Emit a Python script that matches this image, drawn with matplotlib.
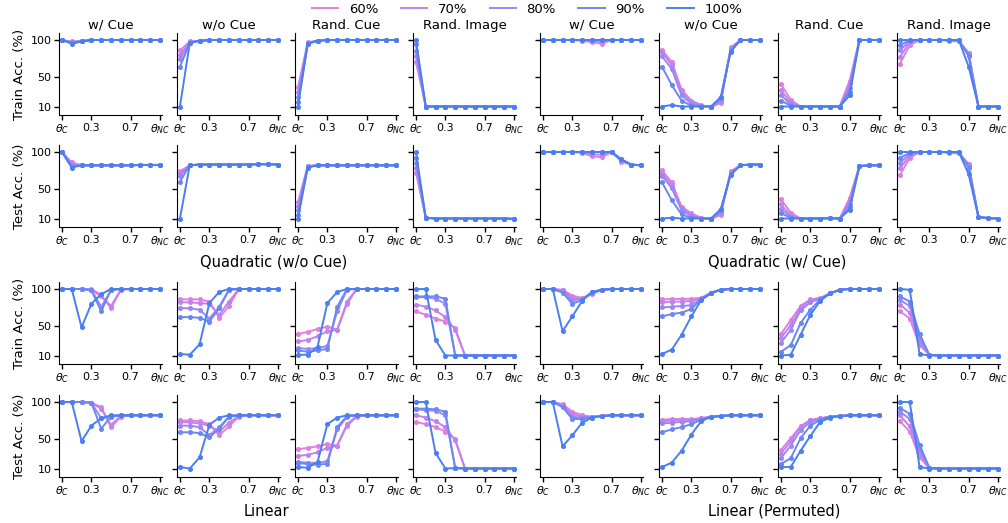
import matplotlib.pyplot as plt
from matplotlib.lines import Line2D

# x positions: theta_C ... theta_NC
theta = [0.0, 0.1, 0.2, 0.3, 0.4, 0.5, 0.6, 0.7, 0.8, 0.9, 1.0]
rates = ['60%', '70%', '80%', '90%', '100%']
conditions = ['w/ Cue', 'w/o Cue', 'Rand. Cue', 'Rand. Image']
colors = ['#e07fe0', '#c381ef', '#9a88f2', '#6d86f1', '#4a7ff0']

# ---- Quadratic (w/o Cue) ----
qn_train_wcue = [
    [100, 98, 99, 100, 100, 100, 100, 100, 100, 100, 100],
    [100, 97, 99, 100, 100, 100, 100, 100, 100, 100, 100],
    [100, 97, 98, 100, 100, 100, 100, 100, 100, 100, 100],
    [100, 96, 98, 100, 100, 100, 100, 100, 100, 100, 100],
    [100, 95, 98, 100, 100, 100, 100, 100, 100, 100, 100],
]
qn_train_nocue = [
    [86, 98, 99, 100, 100, 100, 100, 100, 100, 100, 100],
    [80, 97, 99, 100, 100, 100, 100, 100, 100, 100, 100],
    [74, 97, 99, 100, 100, 100, 100, 100, 100, 100, 100],
    [64, 96, 99, 100, 100, 100, 100, 100, 100, 100, 100],
    [10, 96, 99, 100, 100, 100, 100, 100, 100, 100, 100],
]
qn_train_randcue = [
    [36, 97, 99, 100, 100, 100, 100, 100, 100, 100, 100],
    [30, 96, 99, 100, 100, 100, 100, 100, 100, 100, 100],
    [23, 96, 99, 100, 100, 100, 100, 100, 100, 100, 100],
    [16, 95, 99, 100, 100, 100, 100, 100, 100, 100, 100],
    [10, 95, 99, 100, 100, 100, 100, 100, 100, 100, 100],
]
qn_train_randimg = [
    [70, 10, 10, 10, 10, 10, 10, 10, 10, 10, 10],
    [78, 10, 10, 10, 10, 10, 10, 10, 10, 10, 10],
    [85, 10, 10, 10, 10, 10, 10, 10, 10, 10, 10],
    [94, 10, 10, 10, 10, 10, 10, 10, 10, 10, 10],
    [100, 10, 10, 10, 10, 10, 10, 10, 10, 10, 10],
]
qn_test_wcue = [
    [100, 86, 82, 82, 82, 82, 82, 82, 82.5, 82.5, 82.5],
    [100, 84, 82, 82, 82, 82, 82, 82, 82.5, 82.5, 82.5],
    [100, 82, 82, 82, 82, 82, 82, 82, 82.5, 82.5, 82.5],
    [100, 80, 82, 82, 82, 82, 82, 82, 82.5, 82.5, 82.5],
    [100, 79, 82, 82, 82, 82, 82, 82, 82.5, 82.5, 82.5],
]
qn_test_nocue = [
    [74, 82, 83, 83, 83, 83, 83, 83, 83.5, 83.5, 83],
    [71, 82, 83, 83, 83, 83, 83, 83, 83.5, 83.5, 83],
    [68, 82, 83, 83, 83, 83, 83, 83, 83.5, 83.5, 83],
    [60, 82, 83, 83, 83, 83, 83, 83, 83.5, 83.5, 83],
    [10, 82, 83, 83, 83, 83, 83, 83, 83.5, 83.5, 83],
]
qn_test_randcue = [
    [32, 81, 82, 82, 82, 82, 82, 82, 82, 82, 82],
    [27, 81, 82, 82, 82, 82, 82, 82, 82, 82, 82],
    [21, 80, 82, 82, 82, 82, 82, 82, 82, 82, 82],
    [15, 80, 82, 82, 82, 82, 82, 82, 82, 82, 82],
    [10, 79, 82, 82, 82, 82, 82, 82, 82, 82, 82],
]
qn_test_randimg = [
    [72, 11, 10, 10, 10, 10, 10, 10, 10, 10, 9.5],
    [78, 11, 10, 10, 10, 10, 10, 10, 10, 10, 9.5],
    [85, 11, 10, 10, 10, 10, 10, 10, 10, 10, 9.5],
    [92, 11, 10, 10, 10, 10, 10, 10, 10, 10, 9.5],
    [100, 11, 10, 10, 10, 10, 10, 10, 10, 10, 9.5],
]

# ---- Quadratic (w/ Cue) ----
qw_train_wcue = [
    [100, 100, 100, 100, 99, 97, 95, 100, 100, 100, 100],
    [100, 100, 100, 100, 100, 98, 97, 100, 100, 100, 100],
    [100, 100, 100, 100, 100, 100, 100, 100, 100, 100, 100],
    [100, 100, 100, 100, 100, 100, 100, 100, 100, 100, 100],
    [100, 100, 100, 100, 100, 100, 100, 100, 100, 100, 100],
]
qw_train_nocue = [
    [87, 70, 33, 18, 12, 9, 15, 90, 100, 100, 100],
    [84, 66, 30, 16, 11, 10, 17, 88, 100, 100, 100],
    [78, 61, 25, 14, 10.5, 10, 19, 86, 100, 100, 100],
    [64, 39, 18, 11, 10, 10, 21, 85, 100, 100, 100],
    [10, 12, 10, 10, 10, 10, 23, 84, 100, 100, 100],
]
qw_train_randcue = [
    [40, 19, 10, 10, 10, 10, 10, 45, 100, 100, 100],
    [32, 15, 10, 10, 10, 10, 10, 42, 100, 100, 100],
    [25, 13, 10, 10, 10, 10, 10, 35, 100, 100, 100],
    [18, 11, 10, 10, 10, 10, 10, 30, 100, 100, 100],
    [10, 10, 10, 10, 10, 10, 10, 25, 100, 100, 100],
]
qw_train_randimg = [
    [68, 93, 100, 100, 100, 99, 98, 83, 10, 10, 10],
    [77, 97, 100, 100, 100, 99.5, 99, 82, 10, 10, 10],
    [86, 99, 100, 100, 100, 100, 100, 80, 10, 10, 10],
    [93, 100, 100, 100, 100, 100, 100, 78, 10, 10, 10],
    [100, 100, 100, 100, 100, 100, 100, 64, 10, 10, 10],
]
qw_test_wcue = [
    [100, 100, 100, 100, 99, 94, 93, 100, 87, 83, 82],
    [100, 100, 100, 100, 100, 97, 96, 100, 88, 83, 82],
    [100, 100, 100, 100, 100, 100, 100, 100, 89, 83, 82],
    [100, 100, 100, 100, 100, 100, 100, 100, 90, 83, 82],
    [100, 100, 100, 100, 100, 100, 100, 100, 90, 83, 82],
]
qw_test_nocue = [
    [75, 59, 26, 17, 11, 9, 15, 74, 82, 83, 83],
    [72, 55, 24, 14.5, 10.5, 10, 17, 72, 82, 83, 83],
    [68, 51, 21, 13, 10, 10, 19, 71, 82, 83, 83],
    [59, 35, 15.5, 11, 10, 10, 21, 70, 82, 83, 83],
    [10, 11, 10, 10, 10, 10, 23, 69, 82, 83, 83],
]
qw_test_randcue = [
    [36, 18, 10, 10, 10, 10.5, 10, 38, 81, 82, 82],
    [29, 14, 10, 10, 10, 10.5, 10, 35, 81, 82, 82],
    [23, 12, 10, 10, 10, 10.5, 10, 30, 81, 82, 82],
    [17, 11, 10, 10, 10, 10.5, 10, 25, 81, 82, 82],
    [10, 10, 10, 10, 10, 10.5, 10, 22, 81, 82, 82],
]
qw_test_randimg = [
    [69, 92, 100, 100, 100, 99, 98, 84, 12, 10.5, 10],
    [78, 95, 100, 100, 100, 99.5, 99, 83, 12, 10.5, 10],
    [85, 98, 100, 100, 100, 100, 100, 81, 12, 10.5, 10],
    [92, 99, 100, 100, 100, 100, 100, 79, 12, 10.5, 10],
    [100, 100, 100, 100, 100, 100, 100, 70, 12, 10.5, 10],
]

# ---- Linear ----
lin_train_wcue = [
    [100, 100, 100, 100, 92, 74, 99, 100, 100, 100, 100],
    [100, 100, 100, 99, 90, 77, 99, 100, 100, 100, 100],
    [100, 100, 100, 99, 76, 98, 100, 100, 100, 100, 100],
    [100, 100, 100, 98, 70, 99, 100, 100, 100, 100, 100],
    [100, 100, 48, 80, 93, 100, 100, 100, 100, 100, 100],
]
lin_train_nocue = [
    [86, 86, 86, 83, 61, 77, 100, 100, 100, 100, 100],
    [82, 82, 81, 80, 65, 83, 100, 100, 100, 100, 100],
    [74, 74, 72, 60, 76, 99, 100, 100, 100, 100, 100],
    [62, 62, 61, 56, 74, 99, 100, 100, 100, 100, 100],
    [12, 11, 25, 81, 96, 100, 100, 100, 100, 100, 100],
]
lin_train_randcue = [
    [39, 42, 46, 49, 45, 80, 100, 100, 100, 100, 100],
    [29, 31, 36, 43, 45, 83, 100, 100, 100, 100, 100],
    [20, 19, 20, 23, 70, 99, 100, 100, 100, 100, 100],
    [17, 15, 17, 19, 76, 100, 100, 100, 100, 100, 100],
    [11, 11, 22, 81, 96, 100, 100, 100, 100, 100, 100],
]
lin_train_randimg = [
    [70, 65, 60, 56, 47, 10, 10, 10, 10, 10, 10],
    [79, 76, 71, 62, 45, 10, 10, 10, 10, 10, 10],
    [89, 89, 87, 80, 10, 10, 10, 10, 10, 10, 10],
    [90, 90, 90, 87, 10, 10, 10, 10, 10, 10, 10],
    [100, 100, 31, 10, 10, 10, 10, 10, 10, 10, 10],
]
lin_test_wcue = [
    [100, 100, 100, 99, 93, 66, 80, 82, 82, 82, 82],
    [100, 100, 100, 99, 91, 69, 81, 82, 82, 82, 82],
    [100, 100, 100, 99, 78, 80, 82, 82, 82, 82, 82],
    [100, 100, 100, 99, 64, 80, 82, 82, 82, 82, 82],
    [100, 100, 47, 68, 78, 82, 82, 82, 82, 82, 82],
]
lin_test_nocue = [
    [75, 75, 74, 70, 55, 67, 80, 82, 82, 82, 82],
    [73, 72.5, 71, 68, 60, 72, 81, 82, 82, 82, 82],
    [68, 68, 66, 55, 66, 80, 82, 82, 82, 82, 82],
    [59, 59, 58, 52, 64, 80, 82, 82, 82, 82, 82],
    [12, 10, 25, 69, 79, 82, 82, 82, 82, 82, 82],
]
lin_test_randcue = [
    [36, 38, 40, 43, 41, 68, 80, 82, 82, 82, 82],
    [27, 28.5, 32, 38, 41, 70, 81, 82, 82, 82, 82],
    [19, 18, 17.5, 20, 63, 80, 82, 82, 82, 82, 82],
    [17.5, 16, 15, 16.5, 66, 81, 82, 82, 82, 82, 82],
    [12, 11, 19, 70, 79, 82, 82, 82, 82, 82, 82],
]
lin_test_randimg = [
    [73, 70, 66, 60, 50, 10, 10, 10, 10, 10, 10],
    [82, 79, 74, 66, 48, 10, 10, 10, 10, 10, 10],
    [90, 89, 88, 82, 11, 10, 10, 10, 10, 10, 10],
    [91, 91, 90, 87, 10.5, 10, 10, 10, 10, 10, 10],
    [100, 100, 31, 10, 10.5, 10, 10, 10, 10, 10, 10],
]

# ---- Linear (Permuted) ----
lp_train_wcue = [
    [100, 100, 99, 91, 88, 93, 99, 100, 100, 100, 100],
    [100, 100, 98, 88, 87, 94, 99, 100, 100, 100, 100],
    [100, 100, 97, 84, 87, 95, 99, 100, 100, 100, 100],
    [100, 100, 95, 80, 85, 96, 99, 100, 100, 100, 100],
    [100, 100, 43, 63, 84, 96, 99, 100, 100, 100, 100],
]
lp_train_nocue = [
    [86, 86.5, 86.5, 87, 88, 95, 99, 100, 100, 100, 100],
    [82, 83, 83, 84, 87, 95, 99, 100, 100, 100, 100],
    [75, 76, 77, 78, 87, 95, 99, 100, 100, 100, 100],
    [63, 66, 68, 73, 86, 95, 99, 100, 100, 100, 100],
    [12, 18, 38, 63, 85, 94, 99, 100, 100, 100, 100],
]
lp_train_randcue = [
    [39, 58, 77, 86, 88, 94, 99, 100, 100, 100, 100],
    [34, 51, 75, 85, 87, 94, 99, 100, 100, 100, 100],
    [27, 45, 71, 82, 87, 94, 99, 100, 100, 100, 100],
    [15, 24, 54, 72, 86, 94, 99, 100, 100, 100, 100],
    [10, 11, 38, 65, 84, 94, 99, 100, 100, 100, 100],
]
lp_train_randimg = [
    [70, 60, 24, 11, 10, 10, 10, 10, 10, 10, 10],
    [79, 68, 28, 11, 10, 10, 10, 10, 10, 10, 10],
    [85, 77, 32, 11, 10, 10, 10, 10, 10, 10, 10],
    [90, 83, 39, 11, 10, 10, 10, 10, 10, 10, 10],
    [100, 99, 12, 10, 10, 10, 10, 10, 10, 10, 10],
]
lp_test_wcue = [
    [100, 100, 97, 87, 82, 80, 81, 82, 82, 82, 82],
    [100, 100, 96, 84, 80, 80, 81, 82, 82, 82, 82],
    [100, 100, 95, 80, 79, 80, 81, 82, 82, 82, 82],
    [100, 100, 93, 77, 77, 79, 81, 82, 82, 82, 82],
    [100, 100, 40, 55, 72, 79, 81, 82, 82, 82, 82],
]
lp_test_nocue = [
    [76, 77, 77, 77, 78, 80, 81, 82, 82, 82, 82],
    [74, 75, 75, 76, 78, 80, 81, 82, 82, 82, 82],
    [71, 72, 73, 74, 77, 80, 81, 82, 82, 82, 82],
    [59, 63, 66, 70, 76, 80, 81, 82, 82, 82, 82],
    [12, 18, 34, 56, 74, 80, 81, 82, 82, 82, 82],
]
lp_test_randcue = [
    [35, 51, 67, 76, 78, 80, 81, 82, 82, 82, 82],
    [30, 47, 67, 75, 78, 80, 81, 82, 82, 82, 82],
    [24, 41, 62, 73, 77, 80, 81, 82, 82, 82, 82],
    [16, 24, 51, 68, 76, 80, 81, 82, 82, 82, 82],
    [12, 12, 34, 54, 73, 79, 81, 82, 82, 82, 82],
]
lp_test_randimg = [
    [74, 60, 25, 10, 10, 10, 10, 10, 10, 10, 10],
    [82, 67, 30, 11, 10, 10, 10, 10, 10, 10, 10],
    [87, 77, 35, 11, 10, 10, 10, 10, 10, 10, 10],
    [92, 84, 42, 11, 10, 10, 10, 10, 10, 10, 10],
    [100, 100, 12, 10, 10, 10, 10, 10, 10, 10, 10],
]

# rows of panels: (row index, first column, ylabel, 4 panels)
blocks = [
    (0, 0, 'Train Acc. (%)', [qn_train_wcue, qn_train_nocue, qn_train_randcue, qn_train_randimg]),
    (1, 0, 'Test Acc. (%)', [qn_test_wcue, qn_test_nocue, qn_test_randcue, qn_test_randimg]),
    (0, 4, None, [qw_train_wcue, qw_train_nocue, qw_train_randcue, qw_train_randimg]),
    (1, 4, None, [qw_test_wcue, qw_test_nocue, qw_test_randcue, qw_test_randimg]),
    (2, 0, 'Train Acc. (%)', [lin_train_wcue, lin_train_nocue, lin_train_randcue, lin_train_randimg]),
    (3, 0, 'Test Acc. (%)', [lin_test_wcue, lin_test_nocue, lin_test_randcue, lin_test_randimg]),
    (2, 4, None, [lp_train_wcue, lp_train_nocue, lp_train_randcue, lp_train_randimg]),
    (3, 4, None, [lp_test_wcue, lp_test_nocue, lp_test_randcue, lp_test_randimg]),
]

W, H = 1008, 523
col_left = [59, 177, 295, 413, 540, 659, 778, 897]
row_top = [33, 145, 282, 395]
ax_w, ax_h = 103, 82

fig = plt.figure(figsize=(W / 100, H / 100), dpi=100)

for row, col0, ylab, panels in blocks:
    for k, series in enumerate(panels):
        col = col0 + k
        ax = fig.add_axes([col_left[col] / W, 1 - (row_top[row] + ax_h) / H, ax_w / W, ax_h / H])
        for vals, c in zip(series, colors):
            ax.plot(theta, vals, color=c, lw=1.4, marker='o', ms=2.6)
        ax.set_xlim(-0.03, 1.02)
        ax.set_ylim(-1.5, 109.5)
        ax.set_xticks([0, 0.3, 0.7, 1.0])
        ax.set_xticklabels([r'$\theta_C$', '0.3', '0.7', r'$\theta_{NC}$'], fontsize=8)
        ax.set_yticks([10, 50, 100])
        ax.spines['top'].set_visible(False)
        ax.spines['right'].set_visible(False)
        ax.tick_params(width=1, length=3.5, pad=2, labelsize=8)
        if col == 0:
            ax.set_ylabel(ylab, fontsize=9.5, labelpad=3)
        else:
            ax.set_yticklabels([])
        if row in (0, 2) and row == 0:
            ax.set_title(conditions[k], fontsize=9.5, pad=3)

# group captions
fig.text(274 / W, 1 - 262 / H, 'Quadratic (w/o Cue)', ha='center', va='center', fontsize=10.5)
fig.text(777 / W, 1 - 262 / H, 'Quadratic (w/ Cue)', ha='center', va='center', fontsize=10.5)
fig.text(266 / W, 1 - 511 / H, 'Linear', ha='center', va='center', fontsize=10.5)
fig.text(774 / W, 1 - 511 / H, 'Linear (Permuted)', ha='center', va='center', fontsize=10.5)

handles = [Line2D([], [], color=c, lw=1.4) for c in colors]
fig.legend(handles, rates, loc='center', bbox_to_anchor=(527 / W, 1 - 9 / H), ncol=5,
           frameon=False, fontsize=9.5, handlelength=2.0, columnspacing=1.7)

fig.savefig('out.png', dpi=100)
